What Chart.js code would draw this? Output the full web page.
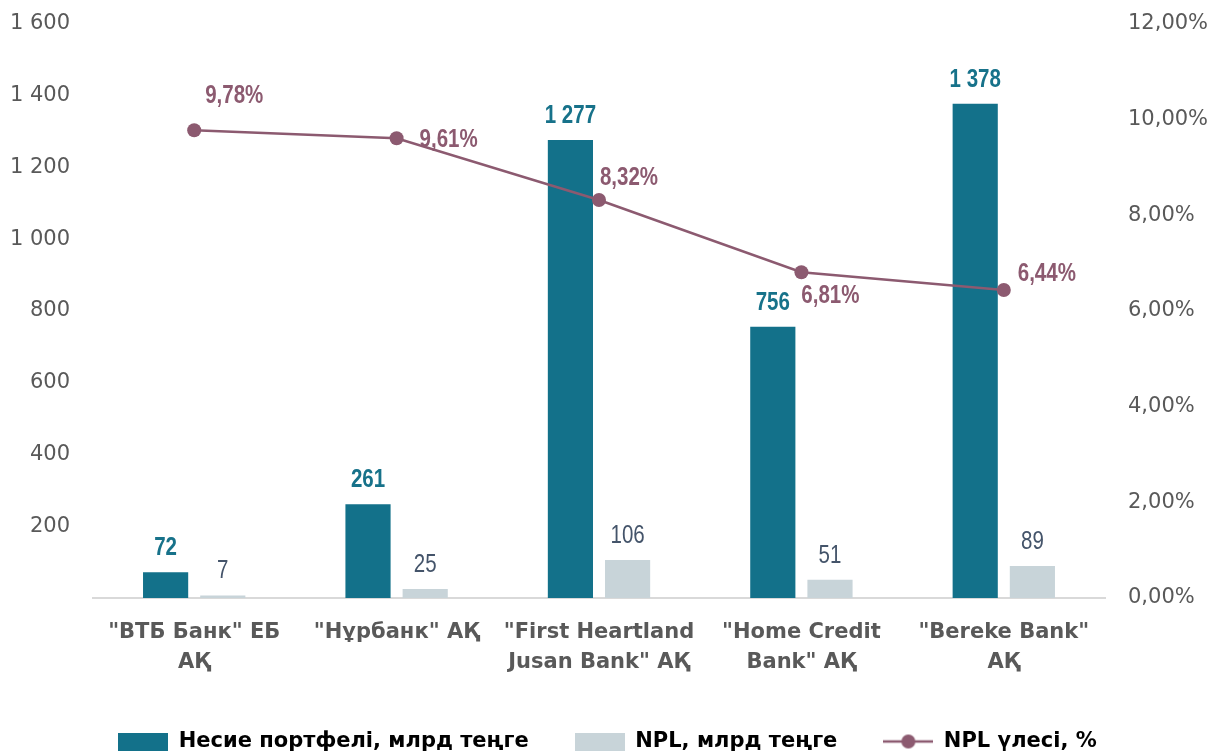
<!DOCTYPE html>
<html lang="kk">
<head>
<meta charset="UTF-8">
<title>Несие портфелі және NPL</title>
<style>
    body, html {
        margin: 0;
        padding: 0;
        background: #ffffff;
    }
    #chartBox {
        width: 1215px;
        height: 753px;
    }
</style>
</head>
<body>
    <div id="chartBox">
        <canvas id="barChart" width="1215" height="753"></canvas>
    </div>

    <script src="https://cdn.jsdelivr.net/npm/chart.js"></script>
    <script>
        // Деректер
        const banks = [
            ['"ВТБ Банк" ЕБ', 'АҚ'],
            ['"Нұрбанк" АҚ'],
            ['"First Heartland', 'Jusan Bank" АҚ'],
            ['"Home Credit', 'Bank" АҚ'],
            ['"Bereke Bank"', 'АҚ']
        ];
        const loanPortfolio = [72, 261, 1277, 756, 1378];   // млрд теңге
        const nplAmount = [7, 25, 106, 51, 89];             // млрд теңге
        const nplShare = [9.78, 9.61, 8.32, 6.81, 6.44];    // %
        const seriesNames = ['Несие портфелі, млрд теңге', 'NPL, млрд теңге', 'NPL үлесі, %'];

        const darkTeal = '#13718A';
        const lightGrey = '#C8D4D9';
        const mauve = '#8C5A70';
        const axisText = '#595959';

        // 1 277 түріндегі сан
        function fmtThousands(v) {
            if (v >= 1000) {
                return Math.floor(v / 1000) + ' ' + String(v % 1000).padStart(3, '0');
            }
            return String(v);
        }
        function fmtPercent(v, digits) {
            return v.toFixed(digits).replace('.', ',') + '%';
        }

        // Легенда белгілері
        function makeBox(color) {
            const c = document.createElement('canvas');
            c.width = 50; c.height = 18;
            const g = c.getContext('2d');
            g.fillStyle = color;
            g.fillRect(0, 0, 50, 18);
            return c;
        }
        function makeLineMark(color) {
            const c = document.createElement('canvas');
            c.width = 50; c.height = 18;
            const g = c.getContext('2d');
            g.strokeStyle = color;
            g.lineWidth = 2.5;
            g.beginPath(); g.moveTo(0, 9); g.lineTo(50, 9); g.stroke();
            g.fillStyle = color;
            g.beginPath(); g.arc(25, 9, 7, 0, Math.PI * 2); g.fill();
            return c;
        }
        const legendMarks = [makeBox(darkTeal), makeBox(lightGrey), makeLineMark(mauve)];

        // тар қаріп жоқ, сондықтан мәтінді көлденеңінен сығамыз
        function narrowText(ctx, text, x, y, squeeze) {
            ctx.save();
            ctx.translate(x, y);
            ctx.scale(squeeze, 1);
            ctx.fillText(text, 0, 0);
            ctx.restore();
        }

        // Мән белгілері
        const valueLabels = {
            id: 'valueLabels',
            afterDatasetsDraw(chart, args, opts) {
                const ctx = chart.ctx;
                ctx.save();
                ctx.textAlign = 'center';
                chart.data.datasets.forEach((ds, i) => {
                    const meta = chart.getDatasetMeta(i);
                    meta.data.forEach((el, j) => {
                        const v = ds.data[j];
                        if (ds.type === 'line') {
                            const off = opts.lineOffsets[j];
                            ctx.font = 'bold 25px "Liberation Sans", sans-serif';
                            ctx.fillStyle = mauve;
                            ctx.textBaseline = 'middle';
                            narrowText(ctx, fmtPercent(v, 2), el.x + off[0], el.y + off[1], 0.82);
                        } else {
                            ctx.font = (i === 0 ? 'bold ' : '') + '25px "Liberation Sans", sans-serif';
                            ctx.fillStyle = i === 0 ? '#17728A' : '#44546A';
                            ctx.textBaseline = 'alphabetic';
                            narrowText(ctx, fmtThousands(v), el.x, el.y - 17, 0.82);
                        }
                    });
                });
                ctx.restore();
            }
        };

        // вертикаль осьтердің артық шегінісін алып тастау
        function fixAxis(width) {
            return (scale) => {
                scale.width = width;
                scale.paddingTop = 0;
                scale.paddingBottom = 0;
            };
        }

        const chart = new Chart(document.getElementById('barChart'), {
            type: 'bar',
            data: {
                labels: banks,
                datasets: [{
                    label: seriesNames[0],
                    data: loanPortfolio,
                    backgroundColor: darkTeal,
                    barPercentage: 0.79,
                    categoryPercentage: 0.565,
                    yAxisID: 'y',
                    order: 1
                }, {
                    label: seriesNames[1],
                    data: nplAmount,
                    backgroundColor: lightGrey,
                    barPercentage: 0.79,
                    categoryPercentage: 0.565,
                    yAxisID: 'y',
                    order: 1
                }, {
                    type: 'line',
                    label: seriesNames[2],
                    data: nplShare,
                    borderColor: mauve,
                    borderWidth: 2.5,
                    backgroundColor: mauve,
                    pointRadius: 7,
                    pointBorderWidth: 0,
                    pointBackgroundColor: mauve,
                    tension: 0,
                    yAxisID: 'y1',
                    order: 0
                }]
            },
            options: {
                responsive: false,
                animation: false,
                layout: {
                    padding: { top: 24, bottom: -9 }
                },
                plugins: {
                    tooltip: { enabled: false },
                    legend: {
                        position: 'bottom',
                        labels: {
                            usePointStyle: true,
                            pointStyleWidth: 50,
                            boxHeight: 18,
                            padding: 46,
                            color: axisText,
                            font: { family: '"DejaVu Sans", sans-serif', size: 21, weight: 'bold' },
                            generateLabels: () => seriesNames.map((name, i) => ({
                                text: name,
                                pointStyle: legendMarks[i],
                                fillStyle: 'transparent',
                                strokeStyle: 'transparent',
                                lineWidth: 0,
                                hidden: false,
                                datasetIndex: i
                            }))
                        }
                    },
                    valueLabels: {
                        lineOffsets: [[40, -34], [52, 2], [30, -22], [29, 24], [43, -16]]
                    }
                },
                scales: {
                    x: {
                        grid: { display: false, drawTicks: false },
                        border: { display: true, color: '#D9D9D9', width: 2 },
                        ticks: {
                            color: axisText,
                            padding: 20,
                            maxRotation: 0,
                            font: { family: '"DejaVu Sans", sans-serif', size: 21, weight: 'bold', lineHeight: 1.4 }
                        },
                        afterFit: (scale) => { scale.height = 87; }
                    },
                    y: {
                        position: 'left',
                        min: 0,
                        max: 1600,
                        grid: { display: false, drawTicks: false },
                        border: { display: false },
                        ticks: {
                            stepSize: 200,
                            padding: 23,
                            color: axisText,
                            font: { family: '"DejaVu Sans", sans-serif', size: 21 },
                            callback: (v) => v === 0 ? '' : fmtThousands(v)
                        },
                        afterFit: fixAxis(93)
                    },
                    y1: {
                        position: 'right',
                        min: 0,
                        max: 12,
                        grid: { display: false, drawTicks: false },
                        border: { display: false },
                        ticks: {
                            stepSize: 2,
                            padding: 23,
                            color: axisText,
                            font: { family: '"DejaVu Sans", sans-serif', size: 21 },
                            callback: (v) => fmtPercent(v, 2)
                        },
                        afterFit: fixAxis(110)
                    }
                }
            },
            plugins: [valueLabels]
        });
    </script>
</body>
</html>
